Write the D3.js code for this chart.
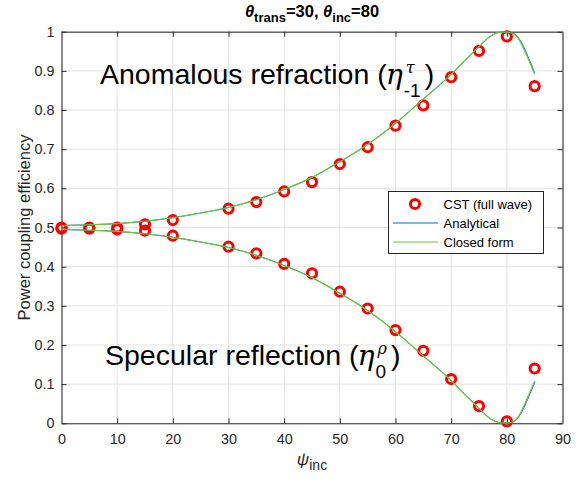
<!DOCTYPE html>
<html><head><meta charset="utf-8">
<script src="https://cdn.jsdelivr.net/npm/d3@7"></script>
<style>
body{margin:0;background:#fff;}
svg{display:block;font-family:"Liberation Sans",Arial,Helvetica,sans-serif;}
</style></head>
<body><svg id="chart" width="585" height="479"></svg>
<script>
// ---------- data ----------
const xTicks = [0,10,20,30,40,50,60,70,80,90];
const yTicks = [0,0.1,0.2,0.3,0.4,0.5,0.6,0.7,0.8,0.9,1];
const yTickLabels = ["0","0.1","0.2","0.3","0.4","0.5","0.6","0.7","0.8","0.9","1"];

// CST (full wave) samples
const cstPsi  = [0,5,10,15,20,30,35,40,45,50,55,60,65,70,75,80,85];
const cstTau  = [0.500,0.500,0.500,0.508,0.519,0.548,0.565,0.592,0.616,0.662,0.705,0.760,0.812,0.884,0.951,0.988,0.861];
const cstRho  = [0.497,0.497,0.495,0.492,0.479,0.451,0.434,0.407,0.383,0.336,0.293,0.238,0.185,0.113,0.044,0.005,0.140];

// Curves
const curvePsi     = [0,5,10,15,20,25,30,35,40,45,50,55,60,65,70,72,75,77,79,80,81,82,83,84,85];
const closedTau    = [0.505,0.507,0.510,0.516,0.525,0.537,0.551,0.571,0.597,0.628,0.668,0.712,0.766,0.828,0.891,0.920,0.962,0.988,0.999,0.999,0.996,0.984,0.957,0.925,0.892];
const closedRho    = [0.495,0.493,0.490,0.484,0.475,0.463,0.449,0.429,0.403,0.372,0.332,0.288,0.234,0.172,0.109,0.080,0.038,0.012,0.001,0.001,0.004,0.016,0.043,0.075,0.108];
const analyticTau  = [0.505,0.507,0.510,0.516,0.525,0.537,0.551,0.571,0.597,0.628,0.668,0.712,0.766,0.828,0.891,0.920,0.962,0.988,0.999,0.999,0.997,0.986,0.962,0.930,0.895];
const analyticRho  = [0.495,0.493,0.490,0.484,0.475,0.463,0.449,0.429,0.403,0.372,0.332,0.288,0.234,0.172,0.109,0.080,0.038,0.012,0.001,0.001,0.003,0.014,0.038,0.070,0.105];

const legendLabels = ["CST (full wave)","Analytical","Closed form"];
const colors = {cst:"#ff0000", analytic:"#0072bd", closed:"#6cc63c", axis:"#262626", grid:"#e3e3e3"};

// ---------- layout ----------
const svg = d3.select("#chart");
const m = {left:61.5, top:31.7, right:562.5, bottom:423.3};
const x = d3.scaleLinear().domain([0,90]).range([m.left,m.right]);
const y = d3.scaleLinear().domain([0,1]).range([m.bottom,m.top]);

// grid
const g = svg.append("g");
g.selectAll("line.gx").data(xTicks).join("line")
  .attr("x1",d=>x(d)).attr("x2",d=>x(d)).attr("y1",m.top).attr("y2",m.bottom)
  .attr("stroke",colors.grid).attr("stroke-width",1);
g.selectAll("line.gy").data(yTicks).join("line")
  .attr("y1",d=>y(d)).attr("y2",d=>y(d)).attr("x1",m.left).attr("x2",m.right)
  .attr("stroke",colors.grid).attr("stroke-width",1);

// axes (inward ticks, box)
const tk = 5;
const axB = svg.append("g").attr("transform",`translate(0,${m.bottom})`)
  .call(d3.axisBottom(x).tickValues(xTicks).tickSizeInner(-tk).tickSizeOuter(0).tickPadding(10));
const axT = svg.append("g").attr("transform",`translate(0,${m.top})`)
  .call(d3.axisTop(x).tickValues(xTicks).tickSizeInner(-tk).tickSizeOuter(0).tickFormat(""));
const axL = svg.append("g").attr("transform",`translate(${m.left},0)`)
  .call(d3.axisLeft(y).tickValues(yTicks).tickSizeInner(-tk).tickSizeOuter(0).tickPadding(7)
    .tickFormat((d,i)=>yTickLabels[i]));
const axR = svg.append("g").attr("transform",`translate(${m.right},0)`)
  .call(d3.axisRight(y).tickValues(yTicks).tickSizeInner(-tk).tickSizeOuter(0).tickFormat(""));
[axB,axT,axL,axR].forEach(a=>{
  a.selectAll("text").attr("fill",colors.axis).style("font-size","14.4px")
   .style("font-family","'Liberation Sans',Arial,sans-serif");
  a.selectAll(".tick line").attr("stroke",colors.axis);
});
axB.select(".domain").attr("stroke",colors.axis);
axT.select(".domain").attr("stroke",colors.axis);
axL.select(".domain").attr("stroke","#8a8a8a").attr("stroke-width",2);
axR.select(".domain").attr("stroke","#8a8a8a").attr("stroke-width",2);

// CST markers
const pts = svg.append("g");
const cstAll = cstPsi.map((p,i)=>[p,cstTau[i]]).concat(cstPsi.map((p,i)=>[p,cstRho[i]]));
pts.selectAll("circle").data(cstAll).join("circle")
  .attr("cx",d=>x(d[0])).attr("cy",d=>y(d[1])).attr("r",4.6)
  .attr("fill","none").attr("stroke",colors.cst).attr("stroke-width",3);

// curves
const line = d3.line().x(d=>x(d[0])).y(d=>y(d[1])).curve(d3.curveMonotoneX);
function drawCurve(vals,color,w){
  svg.append("path").datum(curvePsi.map((p,i)=>[p,vals[i]]))
    .attr("d",line).attr("fill","none").attr("stroke",color).attr("stroke-width",w);
}
drawCurve(analyticTau,colors.analytic,1);
drawCurve(analyticRho,colors.analytic,1);
drawCurve(closedTau,colors.closed,1.2);
drawCurve(closedRho,colors.closed,1.2);

// legend
const lg = svg.append("g");
lg.append("rect").attr("x",388.5).attr("y",191.5).attr("width",155).attr("height",62)
  .attr("fill","#fff").attr("stroke","#262626").attr("stroke-width",1);
const rowsY = [204,223,242];
lg.append("circle").attr("cx",415).attr("cy",rowsY[0]).attr("r",4.6)
  .attr("fill","none").attr("stroke",colors.cst).attr("stroke-width",3);
lg.append("line").attr("x1",393).attr("x2",438).attr("y1",rowsY[1]).attr("y2",rowsY[1])
  .attr("stroke",colors.analytic).attr("stroke-width",1);
lg.append("line").attr("x1",393).attr("x2",438).attr("y1",rowsY[2]).attr("y2",rowsY[2])
  .attr("stroke",colors.closed).attr("stroke-width",1.2);
lg.selectAll("text").data(legendLabels).join("text")
  .attr("x",443.5).attr("y",(d,i)=>rowsY[i]+4.6).text(d=>d)
  .attr("fill","#000").style("font-size","13px");

// helpers for composite text
function width(t){return t.node().getComputedTextLength();}

// title
(function(){
  const t = svg.append("text").attr("y",16.7).attr("fill","#000")
    .style("font-weight","bold").style("font-size","16.5px");
  t.append("tspan").text("θ").style("font-style","italic");
  t.append("tspan").text("trans").attr("dy",5).style("font-size","13px");
  t.append("tspan").text("=30, ").attr("dy",-5);
  t.append("tspan").text("θ").style("font-style","italic");
  t.append("tspan").text("inc").attr("dy",5).style("font-size","13px");
  t.append("tspan").text("=80").attr("dy",-5);
  const w = t.node().getBBox().width;
  t.attr("x",(m.left+m.right)/2 - w/2);
})();

// x label
(function(){
  const t = svg.append("text").attr("y",465).attr("fill","#262626").style("font-size","17px");
  t.append("tspan").text("ψ").style("font-style","italic");
  t.append("tspan").text("inc").attr("dy",5).style("font-size","14px");
  const w = t.node().getBBox().width;
  t.attr("x",(m.left+m.right)/2 - w/2);
})();

// y label
svg.append("text").attr("transform",`translate(30,${(m.top+m.bottom)/2}) rotate(-90)`)
  .attr("text-anchor","middle").attr("fill","#262626").style("font-size","16.5px")
  .text("Power coupling efficiency");

// annotations
function annot(x0,yb,mainTxt,sup,sub){
  const fs = 28.5;
  const t = svg.append("text").attr("x",x0).attr("y",yb).attr("fill","#000").style("font-size",fs+"px");
  t.append("tspan").text(mainTxt);
  const w1 = width(t);
  const eta = svg.append("text").attr("x",x0+w1-1).attr("y",yb).style("font-size",fs+"px")
    .style("font-style","italic").style("font-family","'DejaVu Serif',serif").attr("fill","#000").text("η");
  const we = width(eta);
  const sx = x0+w1+we;
  const sp = svg.append("text").attr("x",sx+2).attr("y",yb-11).style("font-size","16px")
    .style("font-style","italic").style("font-family","'DejaVu Serif',serif").attr("fill","#000").text(sup);
  const sb = svg.append("text").attr("x",sx).attr("y",yb+13).style("font-size","19px").attr("fill","#000").text(sub);
  const ws = Math.max(width(sp)+2,width(sb));
  svg.append("text").attr("x",sx+ws+4).attr("y",yb).style("font-size",fs+"px").attr("fill","#000").text(")");
}
annot(100,84.3,"Anomalous refraction (","τ","-1");
annot(105,365,"Specular reflection (","ρ","0");
</script></body></html>
